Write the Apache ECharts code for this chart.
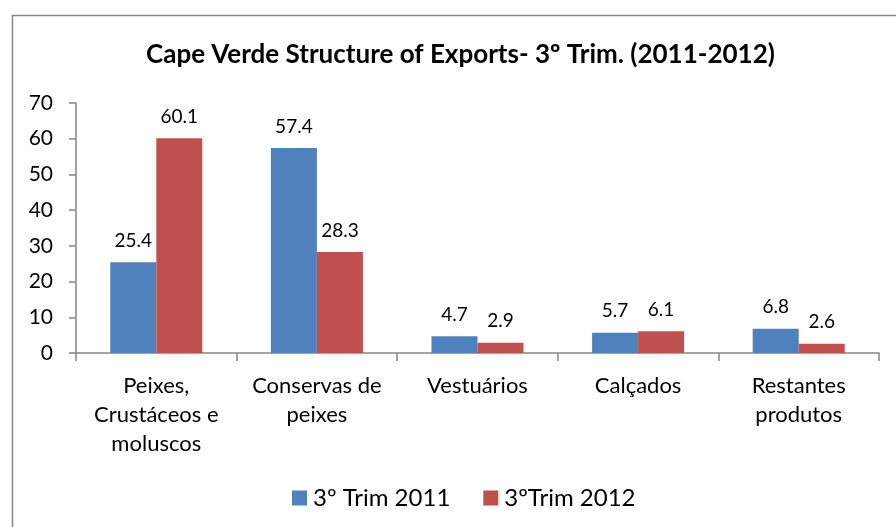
<!DOCTYPE html>
<html>
<head>
<meta charset="utf-8">
<script src="https://cdn.jsdelivr.net/npm/echarts@6/dist/echarts.min.js"></script>
<style>
  html, body { margin: 0; padding: 0; background: #fff; }
  #chart { width: 896px; height: 527px; }
</style>
</head>
<body>
<div id="chart"></div>
<script>
// Export categories and quarterly shares (%)
const categories = ['Peixes,\nCrustáceos e\nmoluscos', 'Conservas de\npeixes', 'Vestuários', 'Calçados', 'Restantes\nprodutos'];
const trim2011 = [25.4, 57.4, 4.7, 5.7, 6.8];
const trim2012 = [60.1, 28.3, 2.9, 6.1, 2.6];
const seriesNames = ['3º Trim 2011', '3ºTrim 2012'];
const titleText = 'Cape Verde Structure of Exports- 3º Trim. (2011-2012)';

const FONT = 'Lato, "Open Sans", sans-serif';
const axisColor = '#868686';

const chart = echarts.init(document.getElementById('chart'), null, { renderer: 'canvas' });

const labelCfg = {
  show: true,
  position: 'top',
  distance: 12,
  color: '#000',
  fontFamily: FONT,
  fontSize: 19,
  formatter: p => p.value.toFixed(1)
};

chart.setOption({
  animation: false,
  backgroundColor: '#fff',
  graphic: [{
    type: 'rect',
    shape: { x: 12.5, y: 15.5, width: 900, height: 540 },
    style: { fill: 'none', stroke: axisColor, lineWidth: 1.5 },
    silent: true,
    z: -1
  }],
  title: {
    text: titleText,
    left: 146,
    top: 42,
    padding: 0,
    textStyle: { fontFamily: FONT, fontWeight: 'bold', fontSize: 26, color: '#000' }
  },
  legend: {
    data: seriesNames,
    left: 292,
    top: 486,
    padding: 0,
    itemWidth: 15,
    itemHeight: 15,
    itemGap: 33,
    icon: 'rect',
    textStyle: { fontFamily: FONT, fontSize: 24, color: '#000', padding: [0, 0, 0, 1] }
  },
  grid: { left: 76, right: 17, top: 103, bottom: 174, containLabel: false },
  xAxis: {
    type: 'category',
    data: categories,
    axisLine: { lineStyle: { color: axisColor, width: 1.5 } },
    axisTick: { show: true, length: 8, lineStyle: { color: axisColor, width: 1.5 } },
    axisLabel: {
      color: '#000', fontFamily: FONT, fontSize: 22, lineHeight: 29,
      margin: 18, interval: 0
    }
  },
  yAxis: {
    type: 'value',
    min: 0, max: 70, interval: 10,
    axisLine: { show: true, lineStyle: { color: axisColor, width: 1.5 } },
    axisTick: { show: true, length: 7, lineStyle: { color: axisColor, width: 1.5 } },
    splitLine: { show: false },
    axisLabel: { color: '#000', fontFamily: FONT, fontSize: 21, margin: 23 }
  },
  series: [
    {
      name: seriesNames[0], type: 'bar', data: trim2011,
      barGap: '0%', barCategoryGap: '42.7%',
      itemStyle: { color: '#4F81BD' },
      label: labelCfg
    },
    {
      name: seriesNames[1], type: 'bar', data: trim2012,
      barGap: '0%', barCategoryGap: '42.7%',
      itemStyle: { color: '#C0504D' },
      label: labelCfg
    }
  ]
});
</script>
</body>
</html>
